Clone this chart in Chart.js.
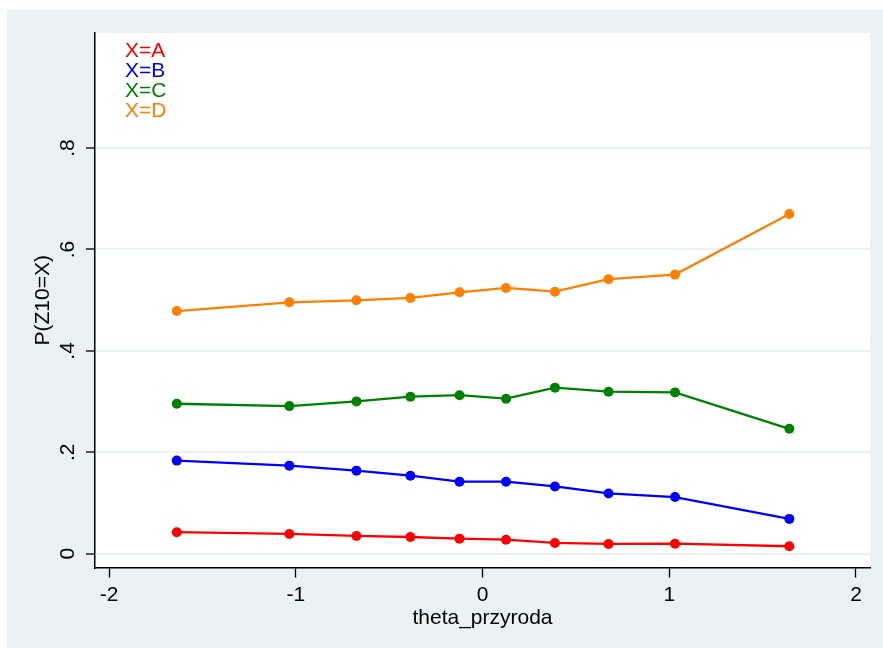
<!DOCTYPE html>
<html><head><meta charset="utf-8">
<script src="https://cdn.jsdelivr.net/npm/chart.js@4"></script>
<style>html,body{margin:0;padding:0;background:#fff;overflow:hidden;}</style>
</head><body>
<canvas id="c" width="883" height="648" style="display:block;width:883px;height:648px"></canvas>
<script>
// ---- data ----
const thetaX = [-1.637, -1.034, -0.675, -0.386, -0.123, 0.126, 0.388, 0.675, 1.031, 1.643];
const seriesLabels = ['X=A', 'X=B', 'X=C', 'X=D'];
const valuesA = [0.0424, 0.0390, 0.0350, 0.0330, 0.0297, 0.0277, 0.0212, 0.0192, 0.0198, 0.0147];
const valuesB = [0.1836, 0.1737, 0.1638, 0.1539, 0.1420, 0.1420, 0.1327, 0.1188, 0.1117, 0.0687];
const valuesC = [0.2958, 0.2911, 0.3004, 0.3097, 0.3127, 0.3057, 0.3275, 0.3196, 0.3182, 0.2463];
const valuesD = [0.4786, 0.4958, 0.4998, 0.5044, 0.5156, 0.5242, 0.5168, 0.5414, 0.5505, 0.6701];
const xTickValues = [-2, -1, 0, 1, 2];
const xTickLabels = ['-2', '-1', '0', '1', '2'];
const yTickValues = [0, 0.2, 0.4, 0.6, 0.8];
const yTickLabels = ['0', '.2', '.4', '.6', '.8'];
const xTitle = 'theta_przyroda';
const yTitle = 'P(Z10=X)';

const colors = ['#ff0000', '#0000ff', '#008000', '#ff7f00'];
const allValues = [valuesA, valuesB, valuesC, valuesD];
const FONT = "'Liberation Sans', Arial, sans-serif";
const FS = 21;

const datasets = allValues.map((vals, i) => ({
  label: seriesLabels[i],
  data: vals.map((v, j) => ({x: thetaX[j], y: v})),
  borderColor: colors[i],
  backgroundColor: colors[i],
  pointBackgroundColor: colors[i],
  pointBorderWidth: 0,
  pointRadius: 5,
  borderWidth: 2.3,
  tension: 0,
  fill: false
}));

const bgPlugin = {
  id: 'bg',
  beforeDraw(chart) {
    const ctx = chart.ctx, a = chart.chartArea;
    ctx.save();
    ctx.fillStyle = '#ffffff';
    ctx.fillRect(0, 0, chart.width, chart.height);
    ctx.fillStyle = '#eaf2f3';
    ctx.fillRect(7, 10, chart.width - 7, chart.height - 10);
    ctx.fillStyle = '#ffffff';
    ctx.fillRect(a.left, a.top, a.right - a.left, a.bottom - a.top);
    ctx.restore();
  }
};

const textLegend = {
  id: 'textLegend',
  afterDraw(chart) {
    const ctx = chart.ctx, a = chart.chartArea;
    ctx.save();
    ctx.font = FS + 'px ' + FONT;
    ctx.textAlign = 'left';
    ctx.textBaseline = 'alphabetic';
    chart.data.datasets.forEach((ds, i) => {
      ctx.fillStyle = ds.borderColor;
      ctx.fillText(ds.label, a.left + 30, a.top + 24 + i * 20);
    });
    ctx.restore();
  }
};

new Chart(document.getElementById('c'), {
  type: 'line',
  data: {datasets},
  plugins: [bgPlugin, textLegend],
  options: {
    responsive: false,
    animation: false,
    devicePixelRatio: 1,
    events: [],
    layout: {padding: {left: 0, right: 13, top: 33, bottom: 0}},
    plugins: {legend: {display: false}, tooltip: {enabled: false}},
    scales: {
      x: {
        type: 'linear',
        min: -2.075, max: 2.075,
        afterBuildTicks: s => { s.ticks = xTickValues.map(v => ({value: v})); },
        afterFit: s => { s.height = 80.5; },
        grid: {drawOnChartArea: false, drawTicks: true, tickLength: 10, tickColor: '#000', tickWidth: 1.3},
        border: {display: true, color: '#000', width: 1.5},
        ticks: {
          color: '#000', font: {family: FONT, size: FS}, padding: 5, maxRotation: 0, minRotation: 0,
          callback: (v) => { const k = xTickValues.indexOf(v); return k >= 0 ? xTickLabels[k] : ''; }
        },
        title: {display: true, text: xTitle, color: '#000', font: {family: FONT, size: FS}, padding: {top: 0, bottom: 17}}
      },
      y: {
        type: 'linear',
        min: -0.0272, max: 1.027,
        afterBuildTicks: s => { s.ticks = yTickValues.map(v => ({value: v})); },
        afterFit: s => { s.width = 95; },
        grid: {color: '#eaf2f3', lineWidth: 2, drawTicks: true, tickLength: 9, tickColor: '#000', tickWidth: 1.3},
        border: {display: true, color: '#000', width: 1.5},
        ticks: {
          color: '#000', font: {family: FONT, size: FS}, padding: 9, minRotation: 90, maxRotation: 90, crossAlign: 'center',
          callback: (v) => { const k = yTickValues.findIndex(t => Math.abs(t - v) < 1e-9); return k >= 0 ? yTickLabels[k] : ''; }
        },
        title: {display: true, text: yTitle, color: '#000', font: {family: FONT, size: FS}, padding: {top: 31, bottom: 0}}
      }
    }
  }
});
</script>
</body></html>
